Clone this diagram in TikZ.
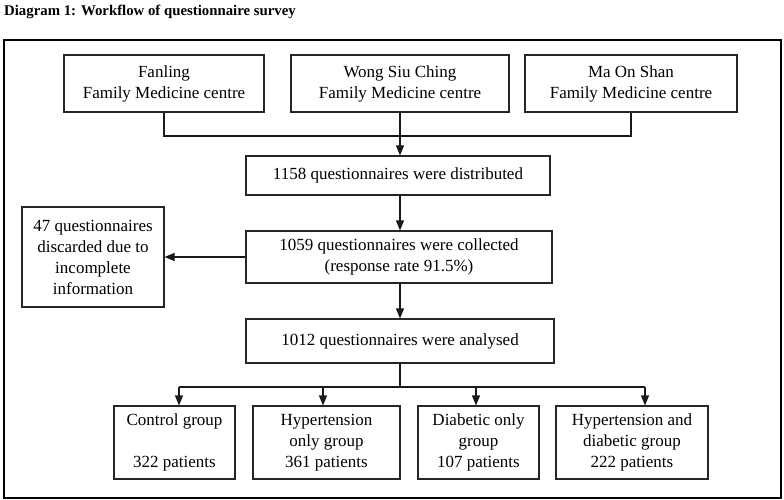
\documentclass[tikz,border=0pt]{standalone}
\usepackage{fontspec}
\setmainfont{Liberation Serif}
\usetikzlibrary{arrows.meta}
\begin{document}
\begin{tikzpicture}[x=1pt,y=-1pt,
  box/.style={draw=black!85, line width=1.1pt, inner sep=0pt, align=center,
    font=\fontsize{17}{21}\selectfont, text=black},
  conn/.style={draw=black!90, line width=1.1pt},
  arr/.style={conn, -{Triangle[length=10pt,width=8pt]}}]
\useasboundingbox (0,0) rectangle (784,500);
\fill[white] (0,0) rectangle (784,500);
\node[anchor=base west, inner sep=0pt, font=\bfseries\fontsize{14.8}{17}\selectfont, text=black] (title) at (4,16) {Diagram 1: Workflow of questionnaire survey};
\node[draw=black, line width=1.4pt, minimum width=777pt, minimum height=458pt, inner sep=0pt] (frame) at (392.5,269) {};
% top row
\node[box, minimum width=200pt, minimum height=57pt] (fan) at (164,83.5) {Fanling\\Family Medicine centre};
\node[box, minimum width=218pt, minimum height=57pt] (wong) at (400,83.5) {Wong Siu Ching\\Family Medicine centre};
\node[box, minimum width=212pt, minimum height=57pt] (ma) at (631,83.5) {Ma On Shan\\Family Medicine centre};
% middle
\node[box, minimum width=304pt, minimum height=39pt] (dist) at (398,175.5) {1158 questionnaires were distributed};
\node[box, minimum width=306pt, minimum height=52pt] (coll) at (399,257) {1059 questionnaires were collected\\(response rate 91.5\%)};
\node[box, minimum width=142pt, minimum height=100pt] (disc) at (93,257) {47 questionnaires\\discarded due to\\incomplete\\information};
\node[box, minimum width=308pt, minimum height=44pt] (anal) at (400,341) {1012 questionnaires were analysed};
% bottom row
\node[box, minimum width=121pt, minimum height=73pt] (ctrl) at (174.5,442.5) {Control group\\[21pt]322 patients};
\node[box, minimum width=147pt, minimum height=73pt] (hyp) at (326.5,442.5) {Hypertension\\only group\\361 patients};
\node[box, minimum width=121pt, minimum height=73pt] (dia) at (478.5,442.5) {Diabetic only\\group\\107 patients};
\node[box, minimum width=152pt, minimum height=73pt] (hd) at (632,442.5) {Hypertension and\\diabetic group\\222 patients};
% connectors
\coordinate (jt) at (400,136);
\draw[conn] (fan.south) |- (jt) -| (ma.south);
\draw[arr] (wong.south) -- (wong.south |- dist.north);
\draw[arr] (dist.south -| 400,0) -- (coll.north -| 400,0);
\draw[arr] (coll.west) -- (disc.east);
\draw[arr] (coll.south -| 400,0) -- (anal.north -| 400,0);
\coordinate (jb) at (400,387);
\coordinate (a1) at (179,387);
\coordinate (a2) at (323,387);
\coordinate (a3) at (476,387);
\coordinate (a4) at (645,387);
\draw[conn] (anal.south -| jb) -- (jb);
\draw[conn] (a1) -- (a4);
\draw[arr] (a1) -- (a1 |- ctrl.north);
\draw[arr] (a2) -- (a2 |- hyp.north);
\draw[arr] (a3) -- (a3 |- dia.north);
\draw[arr] (a4) -- (a4 |- hd.north);
\end{tikzpicture}
\end{document}
